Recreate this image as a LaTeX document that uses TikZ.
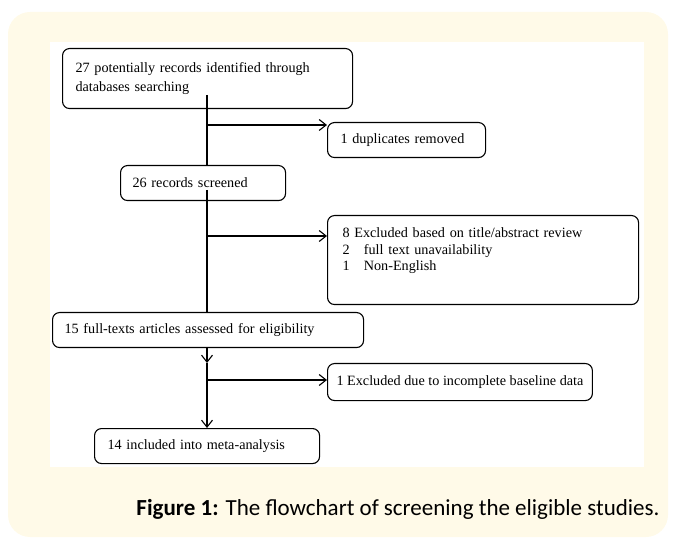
\documentclass[tikz,border=0pt]{standalone}
\usepackage{fontspec}
\setmainfont{Liberation Serif}
\newfontfamily\capfont{Carlito}
\usepackage{tikz}
\usetikzlibrary{arrows.meta,positioning}

\definecolor{cream}{RGB}{255,250,232}

\tikzset{
  >={Straight Barb[length=7pt,width=11pt]},
  box/.style={draw, rounded corners=7pt, line width=1.1pt, anchor=north west,
    inner xsep=13pt, inner ysep=0pt, align=left,
    font=\fontsize{14.2}{16.5}\selectfont},
  flow/.style={line width=1.1pt}
}

\begin{document}
\begin{tikzpicture}[x=1pt, y=-1pt]
        \useasboundingbox (0,0) rectangle (675,545);
        \fill[cream, rounded corners=22pt] (8,12) rectangle (668,537);
        \fill[white] (50,42) rectangle (644,467);

        \node[box, text width=264pt, minimum height=60pt, font=\fontsize{14.2}{19}\selectfont] (rec) at (62,48) {27 potentially records identified through\\databases searching};
        \node[box, text width=132pt, minimum height=35pt] (dup) at (327,122) {1 duplicates removed};
        \node[box, inner xsep=12pt, text width=141pt, minimum height=35pt] (scr) at (120,165) {26 records screened};
        \node[box, inner xsep=15pt, text width=281pt, minimum height=89pt] (excl) at (327,215) {8 Excluded based on title/abstract review\\2~~~full text unavailability\\1~~~Non-English\\\strut};
        \node[box, inner xsep=12pt, text width=287pt, minimum height=35pt] (full) at (52,312) {15 full-texts articles assessed for eligibility};
        \node[box, inner xsep=9pt, minimum width=261pt, minimum height=37pt] (base) at (327,363) {1 Excluded due to incomplete baseline data};
        \node[box, text width=199pt, minimum height=35pt] (incl) at (94,428) {14 included into meta-analysis};

        \node[font=\capfont\fontsize{23}{28}\selectfont] (cap) at (398,509) {\textbf{Figure 1:} The flowchart of screening the eligible studies.};

        \coordinate (top) at (207,95);
        \coordinate (j1) at (207,125);
        \coordinate (mid) at (207,190);
        \coordinate (j2) at (207,236);
        \coordinate (tip) at (207,363);
        \coordinate (j3) at (207,380);

        %identified to screened
        \draw[flow] (top) -- (top |- scr.north);

        %identified to duplicates
        \draw[flow, ->] (j1) -- (j1 -| dup.west);

        %screened to full-texts
        \draw[flow] (mid) -- (mid |- full.north);

        %screened to excluded
        \draw[flow, ->] (j2) -- (j2 -| excl.west);

        %full-texts to included
        \draw[flow, ->] (tip |- full.south) -- (tip);
        \draw[flow, ->] (tip) -- (tip |- incl.north);

        %full-texts to baseline
        \draw[flow, ->] (j3) -- (j3 -| base.west);
\end{tikzpicture}
\end{document}
